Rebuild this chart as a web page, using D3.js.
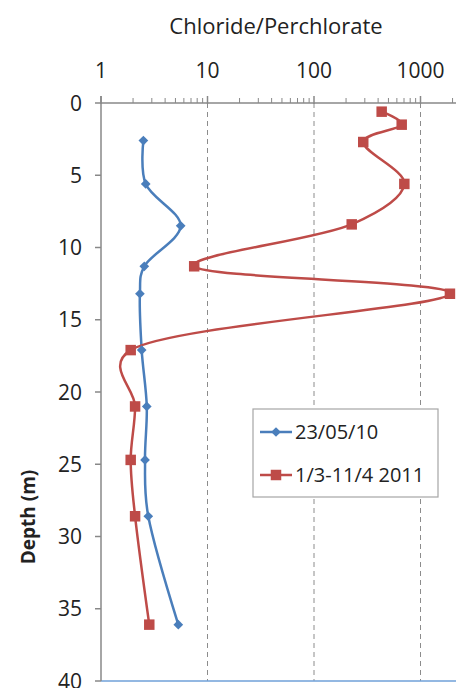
<!DOCTYPE html>
<html>
<head>
<meta charset="utf-8">
<script src="https://cdn.jsdelivr.net/npm/d3@7"></script>
<style>
  html, body { margin: 0; padding: 0; background: #fff; }
  svg { display: block; font-family: "Open Sans", "Liberation Sans", sans-serif; }
</style>
</head>
<body>
<svg id="chart" width="456" height="688"></svg>
<script>
// Depth profiles of the chloride/perchlorate ratio
const depth2010 = [2.6, 5.6, 8.5, 11.3, 13.2, 17.1, 21.0, 24.7, 28.6, 36.1];
const ratio2010 = [2.5, 2.63, 5.6, 2.55, 2.32, 2.41, 2.69, 2.59, 2.78, 5.32];

const depth2011 = [0.6, 1.5, 2.7, 5.6, 8.4, 11.3, 13.2, 17.1, 21.0, 24.7, 28.6, 36.1];
const ratio2011 = [432, 666, 290, 705, 226, 7.5, 1890, 1.9, 2.09, 1.9, 2.09, 2.84];

const seriesNames = ["23/05/10", "1/3-11/4 2011"];
const xTickValues = [1, 10, 100, 1000];
const yTickValues = [0, 5, 10, 15, 20, 25, 30, 35, 40];

const blue = "#4a7ebb";
const red = "#be4b48";
const axisGray = "#888888";

const svg = d3.select("#chart");

const x = d3.scaleLog().domain([1, 10000]).range([101, 527]);
const y = d3.scaleLinear().domain([0, 40]).range([103, 681]);

// dashed vertical gridlines at the decades
svg.append("g").selectAll("line")
  .data([10, 100, 1000])
  .join("line")
  .attr("x1", d => x(d)).attr("x2", d => x(d))
  .attr("y1", y(0)).attr("y2", y(40))
  .attr("stroke", "#8c8c8c")
  .attr("stroke-width", 1)
  .attr("stroke-dasharray", "5,4");

// plot bottom edge
svg.append("line")
  .attr("x1", x(1)).attr("x2", 456)
  .attr("y1", y(40)).attr("y2", y(40))
  .attr("stroke", "#6fa0d8").attr("stroke-width", 1.5);

// top log axis
const minorTicks = [];
for (let p = 0; p < 4; p++) {
  for (let m = 2; m <= 9; m++) minorTicks.push(m * Math.pow(10, p));
}
const xAxis = svg.append("g");
xAxis.append("line")
  .attr("x1", x(1)).attr("x2", 456)
  .attr("y1", y(0)).attr("y2", y(0))
  .attr("stroke", axisGray).attr("stroke-width", 1.5);
xAxis.selectAll(".minor").data(minorTicks).join("line")
  .attr("class", "minor")
  .attr("x1", d => x(d)).attr("x2", d => x(d))
  .attr("y1", y(0) - 5).attr("y2", y(0))
  .attr("stroke", axisGray).attr("stroke-width", 1);
xAxis.selectAll(".major").data([1, 10, 100, 1000, 10000]).join("line")
  .attr("class", "major")
  .attr("x1", d => x(d)).attr("x2", d => x(d))
  .attr("y1", y(0) - 7).attr("y2", y(0) + 1)
  .attr("stroke", axisGray).attr("stroke-width", 1.5);
xAxis.selectAll("text").data(xTickValues).join("text")
  .attr("x", d => x(d))
  .attr("y", 78)
  .attr("text-anchor", "middle")
  .attr("font-size", 21)
  .attr("fill", "#222")
  .text(d => d);

// left depth axis
const yAxis = svg.append("g");
yAxis.append("line")
  .attr("x1", x(1)).attr("x2", x(1))
  .attr("y1", y(0) - 7).attr("y2", y(40))
  .attr("stroke", axisGray).attr("stroke-width", 1.5);
yAxis.selectAll(".tick").data(yTickValues).join("line")
  .attr("class", "tick")
  .attr("x1", x(1) - 6).attr("x2", x(1))
  .attr("y1", d => y(d)).attr("y2", d => y(d))
  .attr("stroke", axisGray).attr("stroke-width", 1.5);
yAxis.selectAll("text").data(yTickValues).join("text")
  .attr("x", 82)
  .attr("y", d => y(d))
  .attr("dy", "0.36em")
  .attr("text-anchor", "end")
  .attr("font-size", 21)
  .attr("fill", "#222")
  .text(d => d);

// titles
svg.append("text")
  .attr("x", 276).attr("y", 34)
  .attr("text-anchor", "middle")
  .attr("font-size", 22)
  .attr("fill", "#222")
  .text("Chloride/Perchlorate");

svg.append("text")
  .attr("transform", "translate(35,517) rotate(-90)")
  .attr("text-anchor", "middle")
  .attr("font-size", 19)
  .attr("font-weight", "bold")
  .attr("fill", "#222")
  .text("Depth (m)");

// series
const plot = svg.append("g");
const line = d3.line()
  .x(d => x(d[0]))
  .y(d => y(d[1]))
  .curve(d3.curveCatmullRom.alpha(0.25));

const s2010 = ratio2010.map((v, i) => [v, depth2010[i]]);
const s2011 = ratio2011.map((v, i) => [v, depth2011[i]]);

plot.append("path").datum(s2010)
  .attr("d", line).attr("fill", "none")
  .attr("stroke", blue).attr("stroke-width", 2.5);
plot.append("path").datum(s2011)
  .attr("d", line).attr("fill", "none")
  .attr("stroke", red).attr("stroke-width", 2.5);

const diamond = d3.symbol().type(d3.symbolDiamond2).size(60);
const square = d3.symbol().type(d3.symbolSquare).size(110);

plot.selectAll(".m2010").data(s2010).join("path")
  .attr("class", "m2010")
  .attr("transform", d => `translate(${x(d[0])},${y(d[1])})`)
  .attr("d", diamond)
  .attr("fill", blue);
plot.selectAll(".m2011").data(s2011).join("path")
  .attr("class", "m2011")
  .attr("transform", d => `translate(${x(d[0])},${y(d[1])})`)
  .attr("d", square)
  .attr("fill", red);

// legend
const legend = svg.append("g");
legend.append("rect")
  .attr("x", 253).attr("y", 409).attr("width", 185).attr("height", 88)
  .attr("fill", "#fff").attr("stroke", "#a6a6a6").attr("stroke-width", 1.2);

const legendItems = [
  { name: seriesNames[0], color: blue, sym: diamond, cy: 432 },
  { name: seriesNames[1], color: red, sym: square, cy: 475 }
];
legendItems.forEach(it => {
  legend.append("line")
    .attr("x1", 260).attr("x2", 292)
    .attr("y1", it.cy).attr("y2", it.cy)
    .attr("stroke", it.color).attr("stroke-width", 2.5);
  legend.append("path")
    .attr("transform", `translate(276,${it.cy})`)
    .attr("d", it.sym)
    .attr("fill", it.color);
  legend.append("text")
    .attr("x", 295).attr("y", it.cy)
    .attr("dy", "0.36em")
    .attr("font-size", 20)
    .attr("fill", "#222")
    .text(it.name);
});
</script>
</body>
</html>
